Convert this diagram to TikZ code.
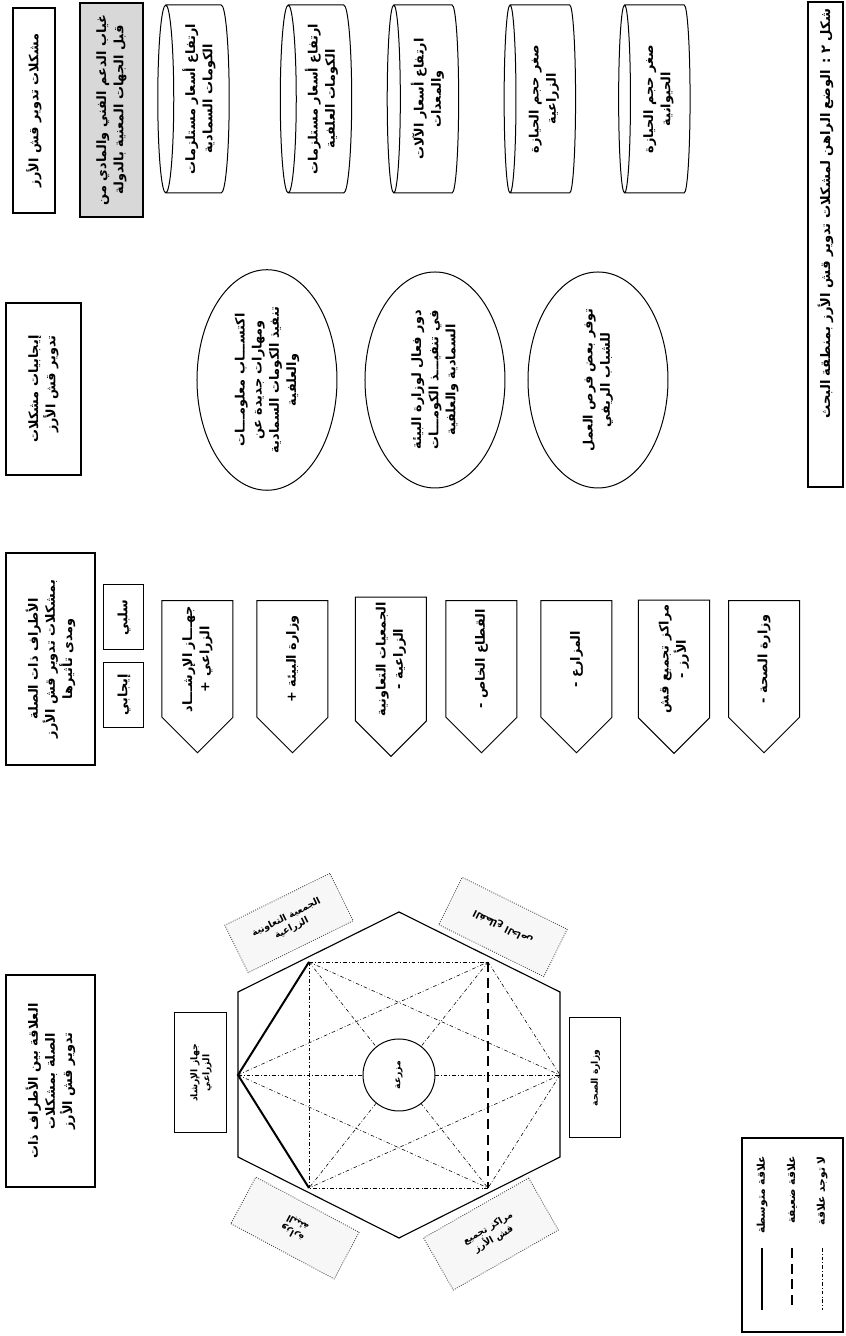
\documentclass[tikz,border=0pt]{standalone}
\usepackage{fontspec}
\usepackage{tikz}
\usetikzlibrary{shapes,positioning}
\newfontfamily\arabicfont[Script=Arabic]{DejaVu Sans}
\TeXXeTstate=1
\newcommand{\artxt}[1]{\beginR #1\endR}
\definecolor{boxgray}{RGB}{216,216,216}
\tikzstyle{arfont} = [font=\arabicfont\bfseries\fontsize{9}{12}\selectfont]
\tikzstyle{smallfont} = [font=\arabicfont\bfseries\fontsize{6.5}{8.5}\selectfont]
\tikzstyle{legfont} = [font=\arabicfont\bfseries\fontsize{7.5}{9}\selectfont]
\tikzstyle{headbox} = [draw, line width=0.8pt, align=center, arfont]
\tikzstyle{problem} = [cylinder, shape border rotate=90, aspect=0.1, draw, line width=0.7pt, minimum width=131.6pt, minimum height=50pt, inner ysep=1pt, align=center, arfont]
\tikzstyle{gain} = [ellipse, draw, line width=0.7pt, minimum width=151.2pt, minimum height=98pt, align=center, arfont]
\tikzstyle{party} = [signal, signal to=west, draw, line width=0.7pt, minimum width=106.4pt, minimum height=49.7pt, align=center, arfont]
\tikzstyle{signbox} = [draw, line width=0.7pt, minimum width=45.5pt, minimum height=28pt, arfont]
\tikzstyle{hexlabel} = [draw, line width=0.7pt, minimum width=84pt, minimum height=36.4pt, align=center, smallfont]
\tikzstyle{tiltlabel} = [draw=black!75, densely dotted, line width=0.6pt, fill=black!3, minimum width=82pt, minimum height=37pt, align=center, smallfont]
\tikzstyle{strong} = [line width=1.4pt]
\tikzstyle{weak} = [line width=1.4pt, dash pattern=on 7pt off 4pt]
\tikzstyle{nolink} = [line width=0.4pt, dash pattern=on 2.5pt off 1.5pt on 0.5pt off 1.5pt]

\begin{document}
\begin{tikzpicture}[x=0.7pt, y=0.7pt, rotate=90, transform shape]
\useasboundingbox (0,0) rectangle (1336,845);
\fill[white] (0,0) rectangle (1336,845);

% Caption
\node[draw, line width=0.8pt, minimum width=339.5pt, minimum height=24.5pt, text width=330pt, align=right, inner xsep=4pt, font=\arabicfont\bfseries\fontsize{9.2}{12}\selectfont] (caption) at (1091.5,19.5) {\artxt{شكل ٢ : الوضع الراهن لمشكلات تدوير قش الأرز بمنطقة البحث}};

% Headers
\node[headbox, minimum width=143.5pt, minimum height=29.4pt] (headprob) at (1225.5,811) {\artxt{مشكلات تدوير قش الأرز}};
\node[headbox, minimum width=120.4pt, minimum height=52.5pt, align=right] (headgain) at (947,801.5) {\artxt{إيجابيات مشكلات}\\\artxt{تدوير قش الأرز}};
\node[headbox, minimum width=148.4pt, minimum height=62.3pt] (headparty) at (677,794.5) {\artxt{الأطراف ذات الصلة}\\\artxt{بمشكلات تدوير قش الأرز}\\\artxt{ومدى تأثيرها}};
\node[headbox, minimum width=148.4pt, minimum height=62.3pt] (headrel) at (255,794.5) {\artxt{العلاقة بين الأطراف ذات}\\\artxt{الصلة بمشكلات}\\\artxt{تدوير قش الأرز}};

% Problems
\node[headbox, fill=boxgray, minimum width=149.8pt, minimum height=44.1pt] (nosupport) at (1226,733.5) {\artxt{غياب الدعم الفني والمادي من}\\\artxt{قبل الجهات المعنية بالدولة}};
\node[problem] (cyl1) at (1237,646) {\artxt{ارتفاع أسعار مستلزمات}\\\artxt{الكومات السمادية}};
\node[problem] (cyl2) at (1237,523.5) {\artxt{ارتفاع أسعار مستلزمات}\\\artxt{الكومات العلفية}};
\node[problem] (cyl3) at (1237,417.5) {\artxt{ارتفاع أسعار الآلات}\\\artxt{والمعدات}};
\node[problem] (cyl4) at (1237,301) {\artxt{صغر حجم الحيازة}\\\artxt{الزراعية}};
\node[problem] (cyl5) at (1237,186.5) {\artxt{صغر حجم الحيازة}\\\artxt{الحيوانية}};

% Positives
\node[gain] (gain1) at (956,578) {\artxt{اكتســـاب معلومـــات}\\\artxt{ومهارات جديدة عن}\\\artxt{تنفيذ الكومات السمادية}\\\artxt{والعلفية}};
\node[gain] (gain2) at (956,410) {\artxt{دور فعال لوزارة البيئة}\\\artxt{في تنفيـــذ الكومـــات}\\\artxt{السمادية والعلفية}};
\node[gain] (gain3) at (956,247) {\artxt{توفر بعض فرص العمل}\\\artxt{للشباب الريفي}};

% Parties
\node[signbox] (neg) at (718.5,721) {\artxt{سلبي}};
\node[signbox] (pos) at (641,721) {\artxt{إيجابي}};
\node[party] (p1) at (677,647.5) {\artxt{جهـــاز الإرشـــاد}\\\artxt{الزراعي +}};
\node[party] (p2) at (677,552.5) {\artxt{وزارة البيئة +}};
\node[party] (p3) at (677,454) {\artxt{الجمعيات التعاونية}\\\artxt{الزراعية -}};
\node[party] (p4) at (677,363.5) {\artxt{القطاع الخاص -}};
\node[party] (p5) at (677,268.5) {\artxt{المزارع -}};
\node[party] (p6) at (677,171) {\artxt{مراكز تجميع قش}\\\artxt{الأرز -}};
\node[party] (p7) at (677,81) {\artxt{وزارة الصحة -}};

% Hexagon
\coordinate (ot) at (424,446);
\coordinate (our) at (344,285);
\coordinate (olr) at (179,285);
\coordinate (ob) at (98,446);
\coordinate (oll) at (179,607);
\coordinate (oul) at (344,607);
\draw[line width=0.8pt] (ot) -- (our) -- (olr) -- (ob) -- (oll) -- (oul) -- cycle;

\coordinate (hA) at (261,607);
\coordinate (hB) at (374,536);
\coordinate (hC) at (374,357);
\coordinate (hD) at (261,285);
\coordinate (hE) at (148,357);
\coordinate (hF) at (148,536);
\foreach \a/\b in {hB/hC, hC/hD, hD/hE, hE/hF, hA/hC, hA/hD, hA/hE, hB/hD, hB/hE, hB/hF, hC/hF, hD/hF}
  \draw[nolink] (\a) -- (\b);
\draw[strong] (hB) -- (hA) -- (hF);
\draw[weak] (hC) -- (hE);
\node[circle, draw, fill=white, line width=0.7pt, minimum size=50.4pt, smallfont] (farm) at (261,446) {\artxt{مزرعة}};

% Hexagon labels
\node[hexlabel] (lext) at (263,644) {\artxt{جهاز الإرشاد}\\\artxt{الزراعي}};
\node[hexlabel, minimum height=35.7pt] (lhealth) at (258,249.5) {\artxt{وزارة الصحة}};
\node[tiltlabel, rotate=-63.7] (lcoop) at (413,556) {\artxt{الجمعية التعاونية}\\\artxt{الزراعية}};
\node[tiltlabel, rotate=63.7] (lprivate) at (409,342) {\artxt{القطاع الخاص}};
\node[tiltlabel, rotate=61.9] (lenv) at (108,550) {\artxt{وزارة}\\\artxt{البيئة}};
\node[tiltlabel, rotate=-60.3, minimum width=84.7pt, minimum height=42pt] (lcenter) at (102,354) {\artxt{مراكز تجميع}\\\artxt{قش الأرز}};

% Legend
\node[draw, line width=0.8pt, minimum width=135.8pt, minimum height=70.7pt] (legend) at (101,52.5) {};
\node[legfont, anchor=east] (lg1) at (185,83) {\artxt{علاقة متوسطة}};
\node[legfont, anchor=east] (lg2) at (185,53) {\artxt{علاقة ضعيفة}};
\node[legfont, anchor=east] (lg3) at (185,23) {\artxt{لا توجد علاقة}};
\coordinate (s1a) at (88,83); \coordinate (s1b) at (26,83);
\coordinate (s2a) at (88,53); \coordinate (s2b) at (26,53);
\coordinate (s3a) at (88,23); \coordinate (s3b) at (26,23);
\draw[strong] (s1a) -- (s1b);
\draw[weak] (s2a) -- (s2b);
\draw[nolink] (s3a) -- (s3b);
\end{tikzpicture}
\end{document}
